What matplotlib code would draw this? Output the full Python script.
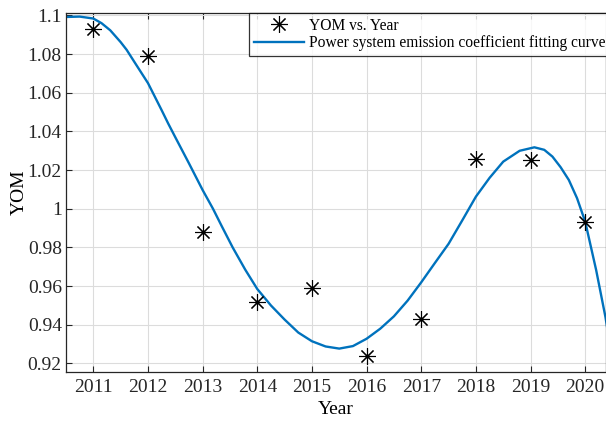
import matplotlib
matplotlib.use("Agg")
import matplotlib.pyplot as plt
from matplotlib.ticker import FuncFormatter

# measured points
years = [2011, 2012, 2013, 2014, 2015, 2016, 2017, 2018, 2019, 2020]
yom = [1.093, 1.079, 0.988, 0.952, 0.959, 0.924, 0.943, 1.026, 1.025, 0.993]

# fitting curve
fit_x = [2010.5, 2010.75, 2011.0, 2011.15, 2011.31, 2011.5, 2011.61, 2011.75,
         2012.0, 2012.25, 2012.37, 2012.5, 2012.75, 2013.0, 2013.19, 2013.35,
         2013.55, 2013.78, 2014.0, 2014.25, 2014.5, 2014.75, 2015.0, 2015.25,
         2015.5, 2015.75, 2016.0, 2016.25, 2016.5, 2016.75, 2017.0, 2017.25,
         2017.5, 2017.75, 2018.0, 2018.25, 2018.5, 2018.8, 2019.07, 2019.25,
         2019.4, 2019.55, 2019.7, 2019.85, 2020.0, 2020.2, 2020.37, 2020.45]
fit_y = [1.0992, 1.0994, 1.0984, 1.0960, 1.0923, 1.0862, 1.0822, 1.0760,
         1.0650, 1.0510, 1.0441, 1.0370, 1.0235, 1.0097, 1.0000, 0.9910,
         0.9800, 0.9685, 0.9585, 0.9500, 0.9427, 0.9360, 0.9315, 0.9288,
         0.9277, 0.9290, 0.9328, 0.9380, 0.9444, 0.9525, 0.9620, 0.9720,
         0.9819, 0.9940, 1.0063, 1.0160, 1.0244, 1.0300, 1.0318, 1.0305,
         1.0270, 1.0215, 1.0149, 1.0055, 0.9933, 0.9683, 0.9440, 0.9300]

plt.rcParams['font.family'] = ['Liberation Serif', 'DejaVu Serif']

fig = plt.figure(figsize=(6.06, 4.21), dpi=100)
ax = fig.add_axes([0.1089, 0.1164, 0.8911, 0.852])

ax.plot(years, yom, linestyle='none', marker=(8, 2, 0), markersize=12,
        markeredgewidth=0.8, color='black', label='YOM vs. Year', zorder=3)
ax.plot(fit_x, fit_y, color='#0072BD', linewidth=1.7,
        label='Power system emission coefficient fitting curve', zorder=2)

ax.set_xlim(2010.5, 2020.38)
ax.set_ylim(0.9156, 1.1011)
ax.set_xticks(years)
ax.set_yticks([0.92, 0.94, 0.96, 0.98, 1.0, 1.02, 1.04, 1.06, 1.08, 1.1])
ax.yaxis.set_major_formatter(FuncFormatter(lambda v, p: f"{v:g}"))

ax.grid(True, color='#dcdcdc', linewidth=0.8)
ax.set_axisbelow(True)
ax.tick_params(direction='in', length=4, width=0.8, labelsize=14,
               colors='#262626', top=True, pad=5)
ax.tick_params(axis='y', pad=3)
for s in ax.spines.values():
    s.set_color('#262626')
    s.set_linewidth(0.9)

ax.set_xlabel('Year', fontsize=14, labelpad=4)
ax.set_ylabel('YOM', fontsize=14, labelpad=0)

leg = ax.legend(loc='upper left', bbox_to_anchor=(0.3397, 1.0), fontsize=11.2,
                frameon=True, fancybox=False, borderaxespad=0,
                handlelength=3.2, handletextpad=0.35, borderpad=0.28,
                labelspacing=0.1)
leg.get_frame().set_edgecolor('black')
leg.get_frame().set_linewidth(0.9)

fig.savefig('out.png', dpi=100)
